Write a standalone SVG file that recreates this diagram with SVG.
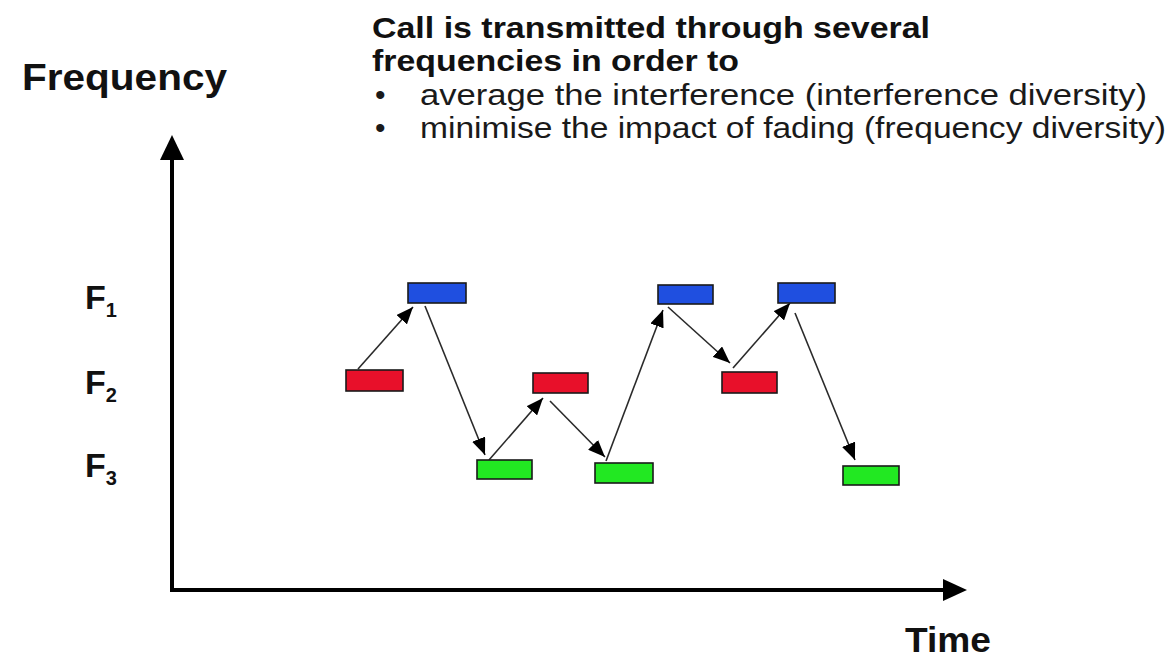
<svg xmlns="http://www.w3.org/2000/svg" width="1171" height="660" viewBox="0 0 1171 660">
  <style>
    .bold { font-family: "Liberation Sans", Arial, sans-serif; font-weight: bold; fill: #111; }
    .reg { font-family: "Liberation Sans", Arial, sans-serif; fill: #1a1a1a; }
    .axis { stroke: #000; stroke-width: 4; fill: none; }
    .hop { stroke: #2a2a2a; stroke-width: 1.6; fill: none; marker-end: url(#tip); }
    .slot { stroke: #1a1a1a; stroke-width: 1.6; }
    .f1 { fill: #1f4fe0; }
    .f2 { fill: #e8102a; }
    .f3 { fill: #22e822; }
  </style>
  <defs>
    <marker id="tip" markerUnits="userSpaceOnUse" markerWidth="18" markerHeight="14" refX="17" refY="7" orient="auto">
      <path d="M0,0 L17,7 L0,14 z" fill="#000"/>
    </marker>
  </defs>

  <rect width="1171" height="660" fill="#fff"/>

  <!-- axes -->
  <g id="axes">
    <line class="axis" x1="172" y1="592" x2="172" y2="156"/>
    <path d="M160,160 L172,135 L184,160 z" fill="#000"/>
    <line class="axis" x1="170" y1="590" x2="946" y2="590"/>
    <path d="M943,579 L967,590 L943,601 z" fill="#000"/>
    <text class="bold" x="22" y="90" font-size="36" textLength="205" lengthAdjust="spacingAndGlyphs">Frequency</text>
    <text class="bold" x="905" y="652" font-size="35" textLength="86" lengthAdjust="spacingAndGlyphs">Time</text>
  </g>

  <!-- frequency labels -->
  <g id="labels">
    <text class="bold" x="85" y="309" font-size="34">F<tspan font-size="20" dy="8">1</tspan></text>
    <text class="bold" x="85" y="394" font-size="34">F<tspan font-size="20" dy="8">2</tspan></text>
    <text class="bold" x="85" y="477" font-size="34">F<tspan font-size="20" dy="8">3</tspan></text>
  </g>

  <!-- heading and bullet notes -->
  <g id="notes">
    <text class="bold" x="372" y="38" font-size="30" textLength="558" lengthAdjust="spacingAndGlyphs">Call is transmitted through several</text>
    <text class="bold" x="372" y="71" font-size="30" textLength="367" lengthAdjust="spacingAndGlyphs">frequencies in order to</text>
    <text class="reg" x="375" y="105" font-size="30">•</text>
    <text class="reg" x="420" y="105" font-size="29" textLength="727" lengthAdjust="spacingAndGlyphs">average the interference (interference diversity)</text>
    <text class="reg" x="375" y="138" font-size="30">•</text>
    <text class="reg" x="420" y="138" font-size="29" textLength="746" lengthAdjust="spacingAndGlyphs">minimise the impact of fading (frequency diversity)</text>
  </g>

  <!-- hopping sequence -->
  <g id="connectors">
    <line class="hop" x1="358" y1="369" x2="413" y2="307"/>
    <line class="hop" x1="425" y1="306" x2="485" y2="455"/>
    <line class="hop" x1="489" y1="460" x2="543" y2="398"/>
    <line class="hop" x1="550" y1="401" x2="605" y2="457"/>
    <line class="hop" x1="606" y1="461" x2="663" y2="310"/>
    <line class="hop" x1="668" y1="307" x2="730" y2="363"/>
    <line class="hop" x1="733" y1="368" x2="790" y2="303"/>
    <line class="hop" x1="795" y1="313" x2="855" y2="460"/>
  </g>

  <g id="slot-r1"><rect class="slot f2" x="346" y="370" width="57" height="21"/></g>
  <g id="slot-b1"><rect class="slot f1" x="408" y="283" width="58" height="20"/></g>
  <g id="slot-g1"><rect class="slot f3" x="477" y="460" width="55" height="19"/></g>
  <g id="slot-r2"><rect class="slot f2" x="533" y="373" width="55" height="20"/></g>
  <g id="slot-g2"><rect class="slot f3" x="595" y="463" width="58" height="20"/></g>
  <g id="slot-b2"><rect class="slot f1" x="658" y="285" width="55" height="19"/></g>
  <g id="slot-r3"><rect class="slot f2" x="722" y="372" width="55" height="21"/></g>
  <g id="slot-b3"><rect class="slot f1" x="778" y="283" width="57" height="20"/></g>
  <g id="slot-g3"><rect class="slot f3" x="843" y="466" width="56" height="19"/></g>
</svg>
